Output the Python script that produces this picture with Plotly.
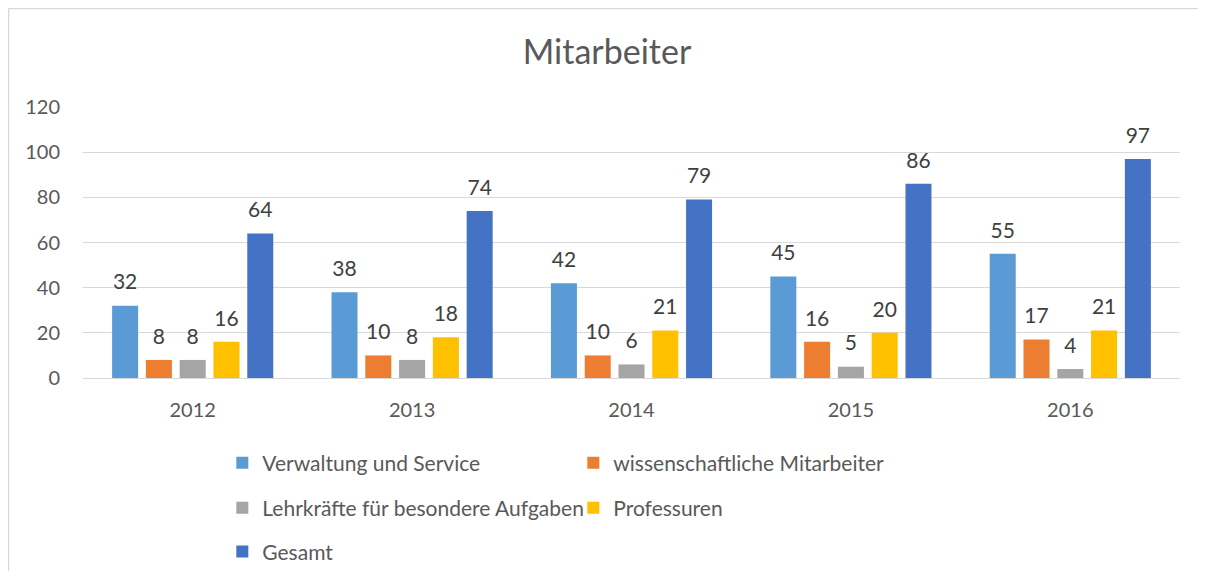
import plotly.graph_objects as go

years = ["2012", "2013", "2014", "2015", "2016"]
series_names = [
    "Verwaltung und Service",
    "wissenschaftliche Mitarbeiter",
    "Lehrkräfte für besondere Aufgaben",
    "Professuren",
    "Gesamt",
]
verwaltung = [32, 38, 42, 45, 55]
wissenschaft = [8, 10, 10, 16, 17]
lehrkraefte = [8, 8, 6, 5, 4]
professuren = [16, 18, 21, 20, 21]
gesamt = [64, 74, 79, 86, 97]
y_ticks = [0, 20, 40, 60, 80, 100, 120]

values = [verwaltung, wissenschaft, lehrkraefte, professuren, gesamt]
colors = ["#5B9BD5", "#ED7D31", "#A5A5A5", "#FFC000", "#4472C4"]
legend_ids = ["legend", "legend", "legend2", "legend2", "legend3"]

FONT = "Lato"
fig = go.Figure()
for i, (name, vals, col) in enumerate(zip(series_names, values, colors)):
    fig.add_trace(go.Bar(
        x=years, y=vals, name=name, marker=dict(color=col, line=dict(width=0)),
        legend=legend_ids[i], hoverinfo="skip", offsetgroup="g%d" % i,
    ))
for i, (name, vals) in enumerate(zip(series_names, values)):
    fig.add_trace(go.Scatter(
        x=years, y=vals, mode="markers+text", text=[str(v) for v in vals],
        textposition="top center", offsetgroup="g%d" % i, orientation="v",
        marker=dict(size=16, opacity=0, color="white"),
        textfont=dict(family=FONT, size=21, color="#404040"),
        showlegend=False, hoverinfo="skip", cliponaxis=False,
    ))

legend_common = dict(
    orientation="h", xanchor="left", yanchor="middle", x=0.127,
    yref="container",
    font=dict(family=FONT, size=21, color="#595959"),
    entrywidth=306, entrywidthmode="pixels", bgcolor="rgba(0,0,0,0)",
    itemclick=False, itemdoubleclick=False,
)

border = dict(color="#D9D9D9", width=1.5)
fig.update_layout(
    width=1190, height=563,
    margin=dict(l=75, r=18, t=99, b=193, autoexpand=False),
    paper_bgcolor="white", plot_bgcolor="white",
    barmode="group", bargap=0.23, bargroupgap=0.23,
    scattermode="group", scattergap=0.23,
    title=dict(text="Mitarbeiter", xref="container", x=599 / 1190, xanchor="center",
               yref="container", y=1 - 44 / 563, yanchor="middle",
               font=dict(family=FONT, size=34, color="#595959")),
    legend=dict(legend_common, y=0.1918),
    legend2=dict(legend_common, y=0.1119),
    legend3=dict(legend_common, y=0.0338),
    xaxis=dict(showgrid=False, showline=False, ticks="", ticklabelstandoff=18,
               tickfont=dict(family=FONT, size=20, color="#595959")),
    yaxis=dict(range=[0, 120], tickvals=y_ticks, showgrid=True, gridcolor="#D9D9D9",
               gridwidth=1.3, zeroline=True, zerolinecolor="#D9D9D9", zerolinewidth=1.3,
               showline=False, ticks="", ticklabelstandoff=22,
               tickfont=dict(family=FONT, size=20, color="#595959")),
    shapes=[
        dict(type="line", xref="paper", yref="paper", x0=-0.0679, x1=1.06,
             y0=1.3635, y1=1.3635, line=border, layer="below"),
        dict(type="line", xref="paper", yref="paper", x0=-0.0679, x1=-0.0679,
             y0=-0.85, y1=1.3635, line=border, layer="below"),
    ],
)

fig.write_html("out.html")
